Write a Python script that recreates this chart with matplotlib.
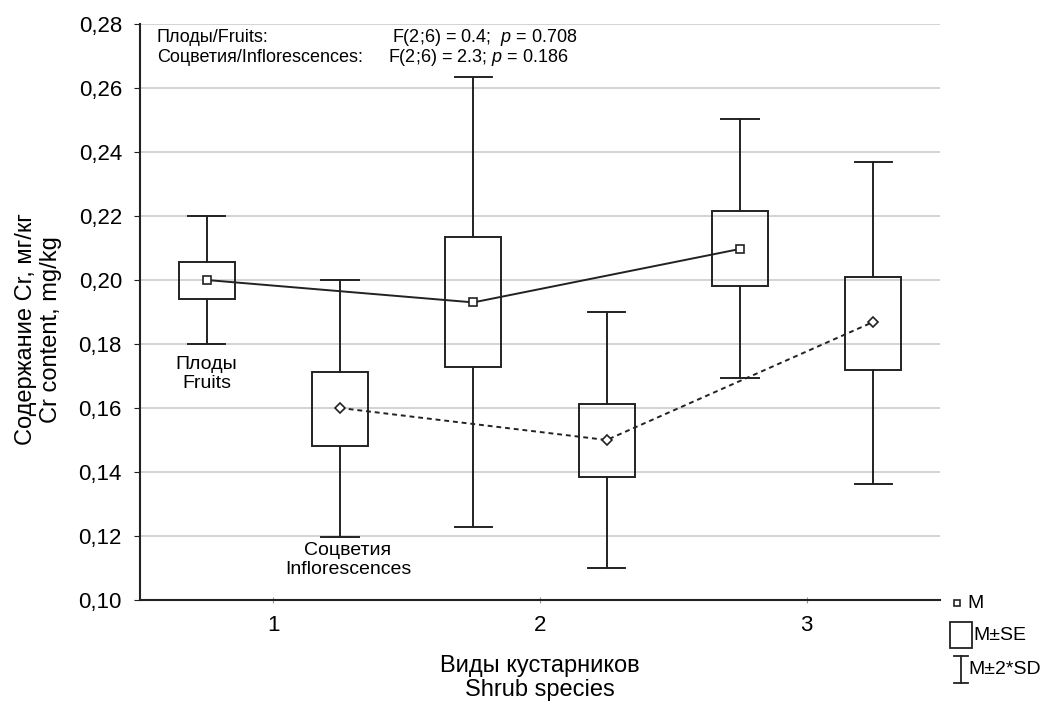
import matplotlib
matplotlib.use("Agg")
import matplotlib.pyplot as plt
from matplotlib.lines import Line2D
from matplotlib.patches import Rectangle
import numpy as np

plt.rcParams['font.family'] = ['Liberation Sans', 'DejaVu Sans']
plt.rcParams['mathtext.fontset'] = 'custom'
plt.rcParams['mathtext.it'] = 'Liberation Sans:italic'

species = [1, 2, 3]
species_labels = ['1', '2', '3']

fruits_mean = [0.200, 0.193, 0.2097]
fruits_se_lo = [0.1941, 0.1728, 0.1981]
fruits_se_hi = [0.2056, 0.2134, 0.2216]
fruits_sd_lo = [0.180, 0.1228, 0.1694]
fruits_sd_hi = [0.220, 0.2634, 0.2503]

infl_mean = [0.160, 0.150, 0.1869]
infl_se_lo = [0.1481, 0.1384, 0.1719]
infl_se_hi = [0.1713, 0.1613, 0.2009]
infl_sd_lo = [0.1197, 0.110, 0.1363]
infl_sd_hi = [0.200, 0.190, 0.2369]

yticks = [0.10, 0.12, 0.14, 0.16, 0.18, 0.20, 0.22, 0.24, 0.26, 0.28]
ytick_labels = ['0,10', '0,12', '0,14', '0,16', '0,18', '0,20', '0,22', '0,24', '0,26', '0,28']

fig = plt.figure(figsize=(10.64, 7.01), dpi=100)
ax = fig.add_axes([140/1064, 1-600/701, 800/1064, 576/701])

col = '#222222'
lw = 1.4
box_w = 0.21
cap_w = 0.14
off = 0.25

def draw_group(xs, mean, se_lo, se_hi, sd_lo, sd_hi, marker, ls, ms):
    for x, m, sl, sh, dl, dh in zip(xs, mean, se_lo, se_hi, sd_lo, sd_hi):
        ax.add_patch(Rectangle((x - box_w/2, sl), box_w, sh - sl, fill=False,
                               edgecolor=col, lw=lw, zorder=3))
        ax.plot([x, x], [sh, dh], color=col, lw=lw, zorder=3)
        ax.plot([x, x], [dl, sl], color=col, lw=lw, zorder=3)
        ax.plot([x - cap_w/2, x + cap_w/2], [dh, dh], color=col, lw=lw, zorder=3)
        ax.plot([x - cap_w/2, x + cap_w/2], [dl, dl], color=col, lw=lw, zorder=3)
    ax.plot(xs, mean, color=col, lw=lw, ls=ls, marker=marker, markersize=ms,
            markerfacecolor='white', markeredgecolor=col, markeredgewidth=1.2, zorder=4)

xf = [s - off for s in species]
xi = [s + off for s in species]
draw_group(xf, fruits_mean, fruits_se_lo, fruits_se_hi, fruits_sd_lo, fruits_sd_hi, 's', '-', 6)
draw_group(xi, infl_mean, infl_se_lo, infl_se_hi, infl_sd_lo, infl_sd_hi, 'D', (0, (2.5, 2)), 5.5)

ax.set_xlim(0.5, 3.5)
ax.set_ylim(0.10, 0.28)
ax.set_yticks(yticks)
ax.set_yticklabels(ytick_labels, fontsize=16)
ax.set_xticks(species)
ax.set_xticklabels(species_labels, fontsize=16)
ax.yaxis.grid(True, color='#cccccc', lw=1.2)
ax.set_axisbelow(True)
for s in ['top', 'right']:
    ax.spines[s].set_visible(False)
for s in ['left', 'bottom']:
    ax.spines[s].set_color(col)
    ax.spines[s].set_linewidth(1.5)
ax.tick_params(axis='y', direction='out', length=4, color=col, pad=9)
ax.tick_params(axis='x', direction='inout', length=5, color='#999999', pad=8)

ax.set_xlabel('Виды кустарников\nShrub species', fontsize=17, labelpad=14, linespacing=1.1)
ax.set_ylabel('Содержание Cr, мг/кг\nCr content, mg/kg', fontsize=17, linespacing=1.15)
ax.yaxis.set_label_coords(-0.0975, 0.47)

ax.text(0.75, 0.1762, 'Плоды\nFruits', ha='center', va='top', fontsize=14, linespacing=1.15)
ax.text(1.28, 0.1180, 'Соцветия\nInflorescences', ha='center', va='top', fontsize=14, linespacing=1.15)

fs_a = 13
fig.text(157/1064, 1-38/701, 'Плоды/Fruits:', fontsize=fs_a, va='center')
fig.text(392/1064, 1-38/701, r'F(2;6) = 0.4;  $\it{p}$ = 0.708', fontsize=fs_a, va='center')
fig.text(157/1064, 1-58/701, 'Соцветия/Inflorescences:', fontsize=fs_a, va='center')
fig.text(388/1064, 1-58/701, r'F(2;6) = 2.3; $\it{p}$ = 0.186', fontsize=fs_a, va='center')

# legend (figure coordinates)
W, H = 1064, 701
def fx(px): return px / W
def fy(py): return 1 - py / H
fig.add_artist(Line2D([fx(957)], [fy(603)], marker='s', markersize=5, markerfacecolor='white',
                      markeredgecolor=col, markeredgewidth=1.2, transform=fig.transFigure))
fig.text(fx(967), fy(603), 'M', fontsize=14, va='center')
fig.add_artist(Rectangle((fx(950), fy(648)), fx(972) - fx(950), fy(622) - fy(648), fill=False,
                         edgecolor=col, lw=1.3, transform=fig.transFigure))
fig.text(fx(973), fy(636), 'M±SE', fontsize=14, va='center')
fig.add_artist(Line2D([fx(961), fx(961)], [fy(656), fy(683)], color=col, lw=1.3, transform=fig.transFigure))
fig.add_artist(Line2D([fx(954), fx(968)], [fy(656), fy(656)], color=col, lw=1.3, transform=fig.transFigure))
fig.add_artist(Line2D([fx(954), fx(968)], [fy(683), fy(683)], color=col, lw=1.3, transform=fig.transFigure))
fig.text(fx(968), fy(670), 'M±2*SD', fontsize=14, va='center')

fig.savefig('out.png', dpi=100)
